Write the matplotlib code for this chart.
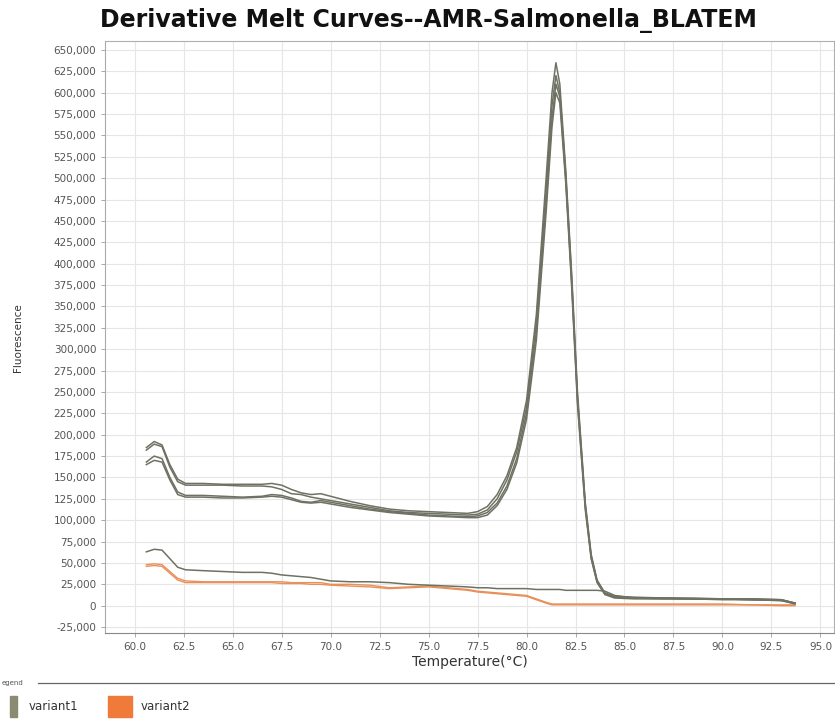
import numpy as np
import matplotlib
matplotlib.use("Agg")
import matplotlib.pyplot as plt
from matplotlib.patches import Rectangle
from matplotlib.lines import Line2D
from matplotlib.ticker import FuncFormatter, MultipleLocator

# temperatures (°C) shared by every curve
temps = [60.6, 61.0, 61.4, 61.8, 62.2, 62.6, 63.5, 64.5, 65.5, 66.5,
         67.0, 67.5, 68.0, 68.5, 69.0, 69.5, 70.0, 71.0, 72.0, 73.0,
         74.0, 75.0, 76.0, 77.0, 77.5, 78.0, 78.5, 79.0, 79.5, 80.0,
         80.5, 81.0, 81.3, 81.5, 81.7, 82.0, 82.3, 82.6, 83.0, 83.3,
         83.6, 84.0, 84.5, 85.5, 87.0, 88.5, 90.0, 91.5, 93.0, 93.7]

# variant1 curves (fluorescence, thousands)
v1_a = [185, 192, 188, 165, 148, 143, 143, 142, 142, 142,
        143, 141, 136, 132, 130, 131, 128, 122, 117, 113,
        111, 110, 109, 108, 110, 116, 130, 152, 185, 240,
        340, 500, 600, 635, 610, 510, 390, 250, 120, 60,
        30, 15, 11, 10, 9, 9, 8, 8, 7, 3]
v1_b = [182, 189, 186, 162, 145, 141, 141, 141, 140, 140,
        139, 136, 131, 130, 127, 125, 123, 119, 115, 111,
        109, 108, 107, 106, 107, 112, 125, 147, 180, 232,
        330, 485, 585, 620, 600, 505, 385, 245, 118, 58,
        29, 14, 10, 9, 9, 8, 8, 7, 7, 3]
v1_c = [168, 175, 172, 150, 133, 129, 129, 128, 127, 128,
        130, 129, 126, 122, 121, 123, 121, 117, 113, 110,
        108, 106, 105, 104, 105, 109, 120, 140, 172, 225,
        320, 470, 570, 610, 595, 500, 380, 240, 115, 56,
        28, 14, 10, 9, 8, 8, 8, 7, 6, 3]
v1_d = [165, 170, 168, 147, 130, 127, 127, 126, 126, 127,
        128, 127, 124, 121, 120, 121, 119, 115, 112, 109,
        107, 105, 104, 103, 103, 106, 117, 136, 167, 218,
        310, 460, 560, 600, 588, 495, 375, 236, 112, 55,
        27, 13, 9, 8, 8, 8, 7, 7, 6, 2]
v1_low = [63, 66, 65, 55, 45, 42, 41, 40, 39, 39,
          38, 36, 35, 34, 33, 31, 29, 28, 28, 27,
          25, 24, 23, 22, 21, 21, 20, 20, 20, 20,
          19, 19, 19, 19, 19, 18, 18, 18, 18, 18,
          18, 17, 12, 9, 9, 8, 8, 8, 7, 3]

# variant2 curves (fluorescence, thousands)
v2_a = [48, 49, 48, 40, 32, 29, 28, 28, 28, 28,
        28, 28, 27, 27, 27, 27, 25, 25, 24, 21,
        22, 23, 21, 19, 17, 16, 15, 14, 13, 12,
        8, 4, 2, 2, 2, 2, 2, 2, 2, 2,
        2, 2, 2, 2, 2, 2, 2, 1, 1, 1]
v2_b = [46, 47, 46, 38, 30, 27, 27, 27, 27, 27,
        27, 26, 26, 26, 25, 25, 24, 23, 22, 20,
        21, 22, 20, 18, 16, 15, 14, 13, 12, 11,
        7, 3, 1, 1, 1, 1, 1, 1, 1, 1,
        1, 1, 1, 1, 1, 1, 1, 1, 0, 0]

v1_curves = [v1_a, v1_b, v1_c, v1_d, v1_low]
v2_curves = [v2_a, v2_b]

title = "Derivative Melt Curves--AMR-Salmonella_BLATEM"
V1_COLOR = "#6e7263"
V2_COLOR = "#e8905a"

plt.rcParams['font.family'] = ['DejaVu Sans']

fig = plt.figure(figsize=(8.35, 7.26), dpi=100)
ax = fig.add_axes([0.126, 0.128, 0.873, 0.815])

t = np.array(temps)
for c in v2_curves:
    ax.plot(t, np.array(c) * 1000, color=V2_COLOR, lw=1.0)
for c in v1_curves:
    ax.plot(t, np.array(c) * 1000, color=V1_COLOR, lw=1.1)

ax.set_xlim(58.5, 95.7)
ax.set_ylim(-32000, 660000)
ax.xaxis.set_major_locator(MultipleLocator(2.5))
ax.yaxis.set_major_locator(MultipleLocator(25000))
ax.xaxis.set_major_formatter(FuncFormatter(lambda v, p: "%.1f" % v))
ax.yaxis.set_major_formatter(FuncFormatter(lambda v, p: "{:,.0f}".format(v)))
ax.tick_params(axis='both', labelsize=7.5, labelcolor="#555555", color="#999999",
               length=3, width=0.6)
ax.grid(True, color="#e6e6e6", lw=0.8)
ax.set_axisbelow(True)
for s in ax.spines.values():
    s.set_color("#b0b0b0")
    s.set_linewidth(0.8)
ax.spines['bottom'].set_color("#888888")
ax.spines['left'].set_color("#aaaaaa")

ax.set_xlabel("Temperature(°C)", fontsize=10, color="#333333", labelpad=2)
ax.set_ylabel("Fluorescence", fontsize=7.5, color="#333333", labelpad=22)

fig.text(0.513, 0.972, title, ha='center', va='center', fontsize=17,
         fontweight='bold', color="#111111")

# legend panel below the chart
fig.text(0.002, 0.059, "egend", fontsize=5, color="#555555", va='center')
fig.add_artist(Line2D([0.045, 1.0], [0.059, 0.059], color="#666666", lw=0.9,
                      transform=fig.transFigure))
fig.add_artist(Rectangle((0.012, 0.012), 0.008, 0.03, color="#8a8b72",
                         transform=fig.transFigure))
fig.text(0.034, 0.027, "variant1", fontsize=8.5, color="#333333", va='center')
fig.add_artist(Rectangle((0.129, 0.012), 0.029, 0.03, color="#f07a3a",
                         transform=fig.transFigure))
fig.text(0.168, 0.027, "variant2", fontsize=8.5, color="#333333", va='center')

fig.savefig("out.png", dpi=100)
